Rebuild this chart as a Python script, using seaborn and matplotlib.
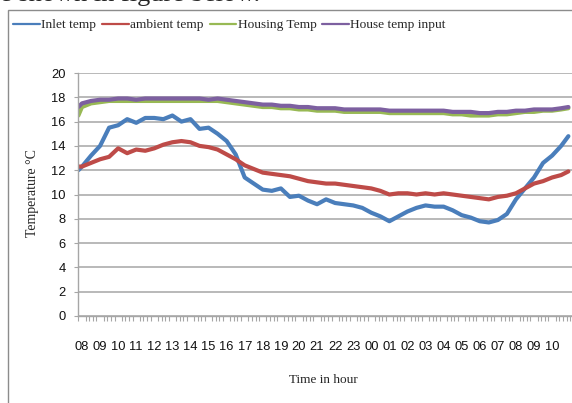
import pandas as pd
import matplotlib
matplotlib.use('Agg')
import matplotlib.pyplot as plt
import seaborn as sns
from matplotlib.patches import Rectangle
from matplotlib.ticker import FixedLocator

# hours after 08:00
hours = [-0.2] + [i * 0.5 for i in range(54)] + [26.9]

inlet = [12.0, 12.3, 13.2, 14.0, 15.5, 15.7, 16.2, 15.9, 16.3, 16.3, 16.2,
         16.5, 16.0, 16.2, 15.4, 15.5, 15.0, 14.4, 13.3, 11.4, 10.9, 10.4,
         10.3, 10.5, 9.8, 9.9, 9.5, 9.2, 9.6, 9.3, 9.2, 9.1, 8.9, 8.5,
         8.2, 7.8, 8.2, 8.6, 8.9, 9.1, 9.0, 9.0, 8.7, 8.3, 8.1, 7.8, 7.7,
         7.9, 8.4, 9.6, 10.5, 11.4, 12.6, 13.2, 14.0, 14.8]
ambient = [12.3, 12.3, 12.6, 12.9, 13.1, 13.8, 13.4, 13.7, 13.6, 13.8, 14.1,
           14.3, 14.4, 14.3, 14.0, 13.9, 13.7, 13.3, 12.9, 12.4, 12.1, 11.8,
           11.7, 11.6, 11.5, 11.3, 11.1, 11.0, 10.9, 10.9, 10.8, 10.7, 10.6,
           10.5, 10.3, 10.0, 10.1, 10.1, 10.0, 10.1, 10.0, 10.1, 10.0, 9.9,
           9.8, 9.7, 9.6, 9.8, 9.9, 10.1, 10.5, 10.9, 11.1, 11.4, 11.6, 11.9]
housing = [16.5, 17.2, 17.5, 17.6, 17.7, 17.7, 17.7, 17.7, 17.7, 17.7, 17.7,
           17.7, 17.7, 17.7, 17.7, 17.7, 17.7, 17.6, 17.5, 17.4, 17.3, 17.2,
           17.2, 17.1, 17.1, 17.0, 17.0, 16.9, 16.9, 16.9, 16.8, 16.8, 16.8,
           16.8, 16.8, 16.7, 16.7, 16.7, 16.7, 16.7, 16.7, 16.7, 16.6, 16.6,
           16.5, 16.5, 16.5, 16.6, 16.6, 16.7, 16.8, 16.8, 16.9, 16.9, 17.0, 17.1]
house_input = [17.2, 17.5, 17.7, 17.8, 17.8, 17.9, 17.9, 17.8, 17.9, 17.9, 17.9,
               17.9, 17.9, 17.9, 17.9, 17.8, 17.9, 17.8, 17.7, 17.6, 17.5, 17.4,
               17.4, 17.3, 17.3, 17.2, 17.2, 17.1, 17.1, 17.1, 17.0, 17.0, 17.0,
               17.0, 17.0, 16.9, 16.9, 16.9, 16.9, 16.9, 16.9, 16.9, 16.8, 16.8,
               16.8, 16.7, 16.7, 16.8, 16.8, 16.9, 16.9, 17.0, 17.0, 17.0, 17.1, 17.2]

series = ['Inlet temp', 'ambient temp', 'Housing Temp', 'House temp input']
colors = ['#4A7EBB', '#BE4B48', '#98B954', '#7D60A0']
hour_labels = ['%02d' % ((8 + h) % 24) for h in range(27)]

df = pd.concat([
    pd.DataFrame({'hour': hours, 'temp': vals, 'series': name})
    for name, vals in zip(series, [inlet, ambient, housing, house_input])
])

sns.set_style('white')
plt.rcParams['font.family'] = ['Liberation Serif', 'DejaVu Sans']

fig = plt.figure(figsize=(5.72, 4.03), dpi=100)
ax = fig.add_axes([78 / 572, 87 / 403, 494 / 572, 243 / 403])

sns.lineplot(data=df, x='hour', y='temp', hue='series', hue_order=series,
             palette=dict(zip(series, colors)), linewidth=3.0, ax=ax,
             estimator=None, sort=True)

ax.set_xlim(-0.22, 27.1)
ax.set_ylim(0, 20)
ax.set_yticks(range(0, 21, 2))
ax.yaxis.grid(True, color='#A6A6A6', linewidth=1.1)
ax.set_axisbelow(True)
for s in ['top', 'right']:
    ax.spines[s].set_visible(False)
for s in ['left', 'bottom']:
    ax.spines[s].set_color('#A6A6A6')
    ax.spines[s].set_linewidth(1.0)

ax.set_xticks(range(27))
ax.set_xticklabels(hour_labels)
ax.xaxis.set_minor_locator(FixedLocator([-0.2 + 0.2 * i for i in range(138)]))
ax.tick_params(axis='x', which='major', length=0, pad=18)
ax.tick_params(axis='x', which='minor', length=3.5, color='#A6A6A6', width=0.8,
               direction='out', bottom=True)
ax.tick_params(axis='y', length=3, color='#A6A6A6', direction='out', left=True, pad=6)
for lab in ax.get_xticklabels() + ax.get_yticklabels():
    lab.set_family(['Liberation Sans Narrow', 'Liberation Sans'])
    lab.set_fontsize(9.3)
    lab.set_color('#111111')

ax.set_xlabel('Time in hour', fontsize=9.5)
ax.set_ylabel('Temperature °C', fontsize=10)
ax.xaxis.set_label_coords(0.496, -0.239)
ax.yaxis.set_label_coords(-0.079, 0.506)

handles, labels = ax.get_legend_handles_labels()
leg = ax.legend(handles, labels, loc='center left', ncol=4,
                bbox_to_anchor=(13 / 572, 1 - 25 / 403),
                bbox_transform=fig.transFigure, frameon=False, fontsize=9.6,
                handlelength=2.0, handletextpad=0.1, columnspacing=0.45,
                borderpad=0, borderaxespad=0)
for h in leg.get_lines():
    h.set_linewidth(1.6)

# chart frame and the clipped document text above it
fig.patches.append(Rectangle((7.5 / 572, -0.1), 1.2, 1.1 - 10 / 403,
                             transform=fig.transFigure, fill=False,
                             edgecolor='#8C8C8C', linewidth=1.0))
fig.text(0.0, 1 - 1.5 / 403, 'e shown in figure below.', fontsize=19,
         va='baseline', ha='left')

fig.savefig('out.png', dpi=100)
